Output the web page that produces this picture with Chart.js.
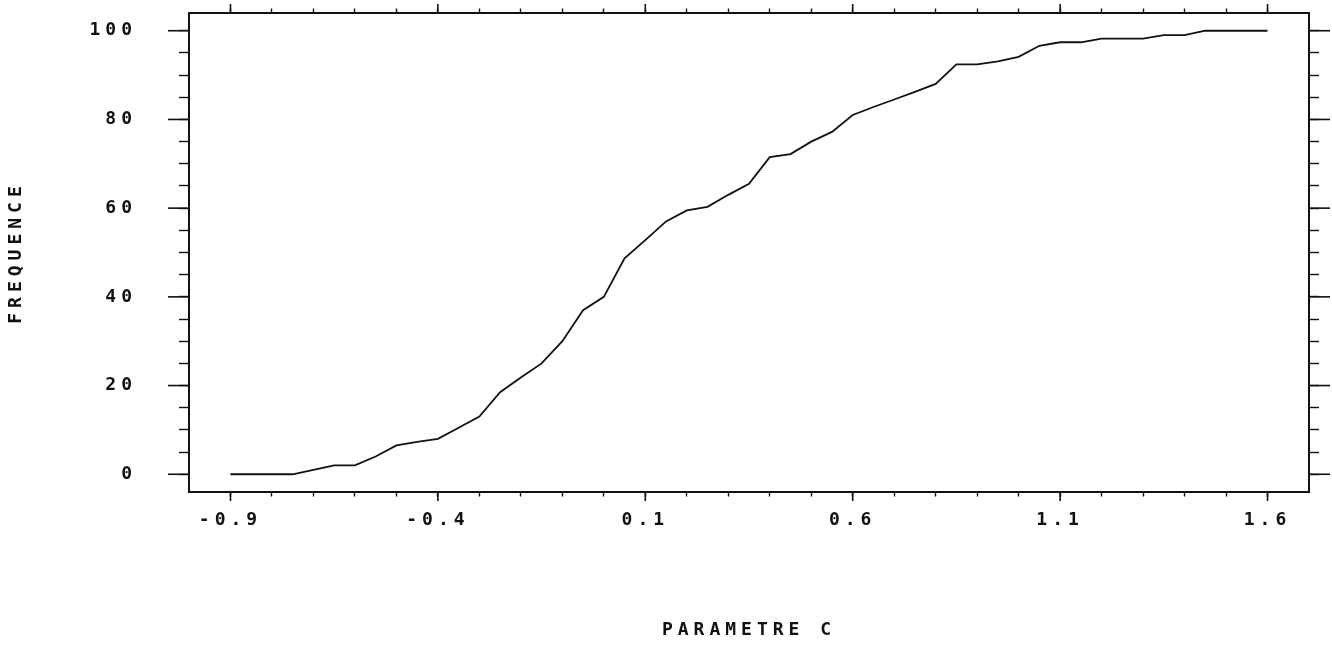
<!DOCTYPE html>
<html lang="fr">
<head>
  <meta charset="UTF-8" />
  <title>Parametre C - frequence cumulee</title>
  <script src="https://cdn.jsdelivr.net/npm/chart.js"></script>
  <style>
    html, body {
      margin: 0;
      padding: 0;
      background: #ffffff;
    }
    .wrap {
      position: relative;
      width: 1332px;
      height: 647px;
    }
  </style>
</head>
<body>
  <div class="wrap"><canvas id="freqChart"></canvas></div>

  <script>
    // cumulative frequency, one point every 0.05
    const paramC = [
      -0.90, -0.85, -0.80, -0.75, -0.70, -0.65, -0.60, -0.55, -0.50, -0.45,
      -0.40, -0.35, -0.30, -0.25, -0.20, -0.15, -0.10, -0.05, 0.00, 0.05,
      0.10, 0.15, 0.20, 0.25, 0.30, 0.35, 0.40, 0.45, 0.50, 0.55,
      0.60, 0.65, 0.70, 0.75, 0.80, 0.85, 0.90, 0.95, 1.00, 1.05,
      1.10, 1.15, 1.20, 1.25, 1.30, 1.35, 1.40, 1.45, 1.50, 1.55, 1.60
    ];
    const frequence = [
      0, 0, 0, 0, 1, 2, 2, 4, 6.5, 7.3,
      8, 10.5, 13, 18.5, 21.8, 25, 30, 37, 40, 48.7,
      52.8, 57, 59.5, 60.3, 63, 65.5, 71.5, 72.2, 75, 77.2,
      81, 82.8, 84.5, 86.2, 88, 92.4, 92.4, 93.1, 94.1, 96.6,
      97.4, 97.4, 98.2, 98.2, 98.2, 99, 99, 100, 100, 100, 100
    ];

    // tick positions
    const xLabelTicks = [-0.9, -0.4, 0.1, 0.6, 1.1, 1.6];
    const xMinorTicks = [
      -0.9, -0.8, -0.7, -0.6, -0.5, -0.4, -0.3, -0.2, -0.1, 0.0,
      0.1, 0.2, 0.3, 0.4, 0.5, 0.6, 0.7, 0.8, 0.9, 1.0,
      1.1, 1.2, 1.3, 1.4, 1.5, 1.6
    ];
    const yLabelTicks = [0, 20, 40, 60, 80, 100];
    const yMinorTicks = [0, 5, 10, 15, 20, 25, 30, 35, 40, 45, 50, 55, 60, 65, 70, 75, 80, 85, 90, 95, 100];

    const FONT = "'DejaVu Sans Mono', 'Liberation Mono', monospace";
    const isIn = (arr, v) => arr.some(a => Math.abs(a - v) < 1e-9);

    const setTicks = (list) => (scale) => {
      scale.ticks = list.map(v => ({ value: v }));
    };

    // fixed box sizes so the plot frame lands where the original one is
    const fixSize = (w, h) => (s) => {
      if (w !== null) s.width = w;
      if (h !== null) s.height = h;
      s.paddingTop = 0;
      s.paddingBottom = 0;
      s.paddingLeft = 0;
      s.paddingRight = 0;
    };

    // longer marks for the labelled ticks
    const majorLen = { x: 9, x2: 9, y: 21, y2: 21 };
    const majorTicks = {
      id: 'majorTicks',
      beforeDraw(chart) {
        chart.ctx.letterSpacing = '5px';
      },
      afterDraw(chart) {
        const ctx = chart.ctx;
        const a = chart.chartArea;
        ctx.save();
        ctx.strokeStyle = '#111';
        ctx.lineWidth = 1.6;
        Object.keys(majorLen).forEach(id => {
          const s = chart.scales[id];
          const len = majorLen[id];
          const list = id.startsWith('x') ? xLabelTicks : yLabelTicks;
          s.ticks.forEach(t => {
            if (!isIn(list, t.value)) return;
            const p = s.getPixelForValue(t.value);
            ctx.beginPath();
            if (id === 'x') { ctx.moveTo(p, a.bottom); ctx.lineTo(p, a.bottom + len); }
            if (id === 'x2') { ctx.moveTo(p, a.top); ctx.lineTo(p, a.top - len); }
            if (id === 'y') { ctx.moveTo(a.left, p); ctx.lineTo(a.left - len, p); }
            if (id === 'y2') { ctx.moveTo(a.right, p); ctx.lineTo(a.right + len, p); }
            ctx.stroke();
          });
        });
        ctx.restore();
      }
    };

    const edgeGrid = (len) => ({
      drawOnChartArea: false,
      drawTicks: true,
      tickLength: len,
      tickColor: '#111',
      tickWidth: 1.4
    });
    const edgeBorder = { display: true, color: '#111', width: 2 };
    const labelFont = { family: FONT, size: 18, weight: 'bold' };
    const titleFont = { family: FONT, size: 18, weight: 'bold', lineHeight: 1.2 };

    new Chart(document.getElementById('freqChart'), {
      type: 'line',
      data: {
        datasets: [{
          label: 'FREQUENCE',
          data: paramC.map((x, i) => ({ x: x, y: frequence[i] })),
          borderColor: '#111',
          borderWidth: 1.8,
          pointRadius: 0,
          tension: 0,
          fill: false
        }]
      },
      options: {
        responsive: true,
        maintainAspectRatio: false,
        animation: false,
        layout: { padding: 0 },
        plugins: {
          legend: { display: false },
          tooltip: { enabled: false }
        },
        scales: {
          x: {
            type: 'linear',
            position: 'bottom',
            min: -1.0,
            max: 1.7,
            afterBuildTicks: setTicks(xMinorTicks),
            afterFit: fixSize(null, 155),
            grid: edgeGrid(4.5),
            border: edgeBorder,
            ticks: {
              autoSkip: false,
              maxRotation: 0,
              padding: 13,
              color: '#111',
              font: labelFont,
              callback: (v) => isIn(xLabelTicks, v) ? v.toFixed(1) : ''
            },
            title: {
              display: true,
              text: 'PARAMETRE C',
              color: '#111',
              font: titleFont,
              padding: { top: 0, bottom: 6 }
            }
          },
          x2: {
            type: 'linear',
            position: 'top',
            min: -1.0,
            max: 1.7,
            afterBuildTicks: setTicks(xMinorTicks),
            afterFit: fixSize(null, 13),
            grid: edgeGrid(4.5),
            border: edgeBorder,
            ticks: { display: false }
          },
          y: {
            type: 'linear',
            position: 'left',
            min: -4,
            max: 104,
            afterBuildTicks: setTicks(yMinorTicks),
            afterFit: fixSize(189, null),
            grid: edgeGrid(10),
            border: edgeBorder,
            ticks: {
              autoSkip: false,
              padding: 42,
              color: '#111',
              font: labelFont,
              callback: (v) => isIn(yLabelTicks, v) ? String(v) : ''
            },
            title: {
              display: true,
              text: 'FREQUENCE',
              color: '#111',
              font: titleFont,
              padding: { top: 6, bottom: 0 }
            }
          },
          y2: {
            type: 'linear',
            position: 'right',
            min: -4,
            max: 104,
            afterBuildTicks: setTicks(yMinorTicks),
            afterFit: fixSize(23, null),
            grid: edgeGrid(10),
            border: edgeBorder,
            ticks: { display: false }
          }
        }
      },
      plugins: [majorTicks]
    });
  </script>
</body>
</html>
